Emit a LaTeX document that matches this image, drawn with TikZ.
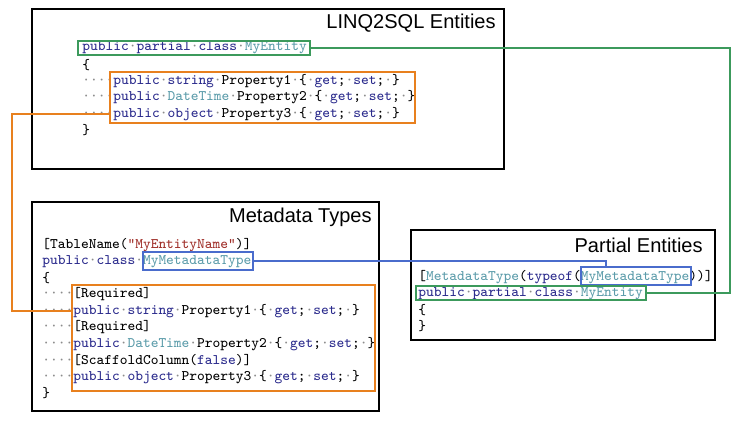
\documentclass[tikz,border=0pt]{standalone}
\usepackage{fontspec}
\setmainfont{Liberation Sans}
\newfontfamily\codefont{Latin Modern Mono}
\usepackage{xcolor}
\usetikzlibrary{positioning,calc,fit}

\definecolor{kwblue}{HTML}{2A2A8C}
\definecolor{tpteal}{HTML}{5C9CAA}
\definecolor{strred}{HTML}{A0302A}
\definecolor{dotgray}{HTML}{8C8C8C}
\definecolor{hlorange}{HTML}{E8801E}
\definecolor{hlgreen}{HTML}{3C9A5C}
\definecolor{hlblue}{HTML}{4A6CCC}

% code colouring
\newcommand\kw[1]{\textcolor{kwblue}{#1}}
\newcommand\tp[1]{\textcolor{tpteal}{#1}}
\newcommand\str[1]{\textcolor{strred}{#1}}
\newcommand\dt{\textcolor{dotgray}{·}}
\newcommand\ind{\dt\dt\dt\dt}

\begin{document}
\begin{tikzpicture}[x=0.02cm,y=-0.02cm,
    frame/.style={draw=black, line width=1.1pt, inner sep=0pt},
    title/.style={anchor=east, inner sep=0pt, font=\fontsize{11.4}{13}\selectfont},
    code/.style={anchor=west, inner sep=0pt, font=\codefont\fontsize{8.3}{10}\selectfont},
    hlbox/.style={draw=#1, line width=0.9pt, inner sep=0pt},
    link/.style={draw=#1, line width=0.9pt}]
\useasboundingbox (0,0) rectangle (750,433);

% Frames
\node[frame, fit={(32,9) (504,169)}] (linqbox) {};
\node[frame, fit={(32,202) (379,411)}] (metabox) {};
\node[frame, fit={(411,230) (715,340)}] (partbox) {};

\node[title] (linqtitle) at (496,23) {LINQ2SQL Entities};
\node[title] (metatitle) at (372,217) {Metadata Types};
\node[title] (parttitle) at (703,245) {Partial Entities};

% LINQ2SQL code
\node[code] (la) at (82,48) {\kw{public}\dt\kw{partial}\dt\kw{class}\dt\tp{MyEntity}};
\node[code] (lb) at (82,65) {\{};
\node[code] (lc) at (82,81) {\ind\kw{public}\dt\kw{string}\dt Property1\dt\{\dt\kw{get};\dt\kw{set};\dt\}};
\node[code] (ld) at (82,97.5) {\ind\kw{public}\dt\tp{DateTime}\dt Property2\dt\{\dt\kw{get};\dt\kw{set};\dt\}};
\node[code] (le) at (82,114) {\ind\kw{public}\dt\kw{object}\dt Property3\dt\{\dt\kw{get};\dt\kw{set};\dt\}};
\node[code] (lf) at (82,130.5) {\}};

% Metadata code
\node[code] (ma) at (42,245) {[TableName(\str{"MyEntityName"})]};
\node[code] (mb) at (42,261.5) {\kw{public}\dt\kw{class}\dt\tp{MyMetadataType}};
\node[code] (mc) at (42,278) {\{};
\node[code] (md) at (42,294.5) {\ind[Required]};
\node[code] (me) at (42,311) {\ind\kw{public}\dt\kw{string}\dt Property1\dt\{\dt\kw{get};\dt\kw{set};\dt\}};
\node[code] (mf) at (42,327.5) {\ind[Required]};
\node[code] (mg) at (42,344) {\ind\kw{public}\dt\tp{DateTime}\dt Property2\dt\{\dt\kw{get};\dt\kw{set};\dt\}};
\node[code] (mh) at (42,360.5) {\ind[ScaffoldColumn(\kw{false})]};
\node[code] (mi) at (42,377) {\ind\kw{public}\dt\kw{object}\dt Property3\dt\{\dt\kw{get};\dt\kw{set};\dt\}};
\node[code] (mj) at (42,393.5) {\}};

% Partial code
\node[code] (pa) at (418,277) {[\tp{MetadataType}(\kw{typeof}(\tp{MyMetadataType}))]};
\node[code] (pb) at (418,293.5) {\kw{public}\dt\kw{partial}\dt\kw{class}\dt\tp{MyEntity}};
\node[code] (pc) at (418,310) {\{};
\node[code] (pd) at (418,326) {\}};

% Highlights
\node[hlbox=hlgreen, fit={(78,41) (310,55)}] (g1) {};
\node[hlbox=hlorange, fit={(110,72) (415,123)}] (o1) {};
\node[hlbox=hlblue, fit={(143,252) (253,270)}] (b2) {};
\node[hlbox=hlorange, fit={(72,285) (375,391)}] (o2) {};
\node[hlbox=hlblue, fit={(581,267) (691,285)}] (b3) {};
\node[hlbox=hlgreen, fit={(416,286) (646,300)}] (g3) {};

% Connectors
\coordinate (gcorner) at (730,48);
\coordinate (bcorner) at (606,261);
\coordinate (ocorner) at (12,114);
\draw[link=hlgreen] (g1.east) -- (gcorner) |- (g3.east);
\draw[link=hlblue] (b2.east) -- (bcorner) -- (bcorner |- b3.north);
\draw[link=hlorange] (o1.west |- le) -- (ocorner) |- (o2.west |- me);

\end{tikzpicture}
\end{document}
